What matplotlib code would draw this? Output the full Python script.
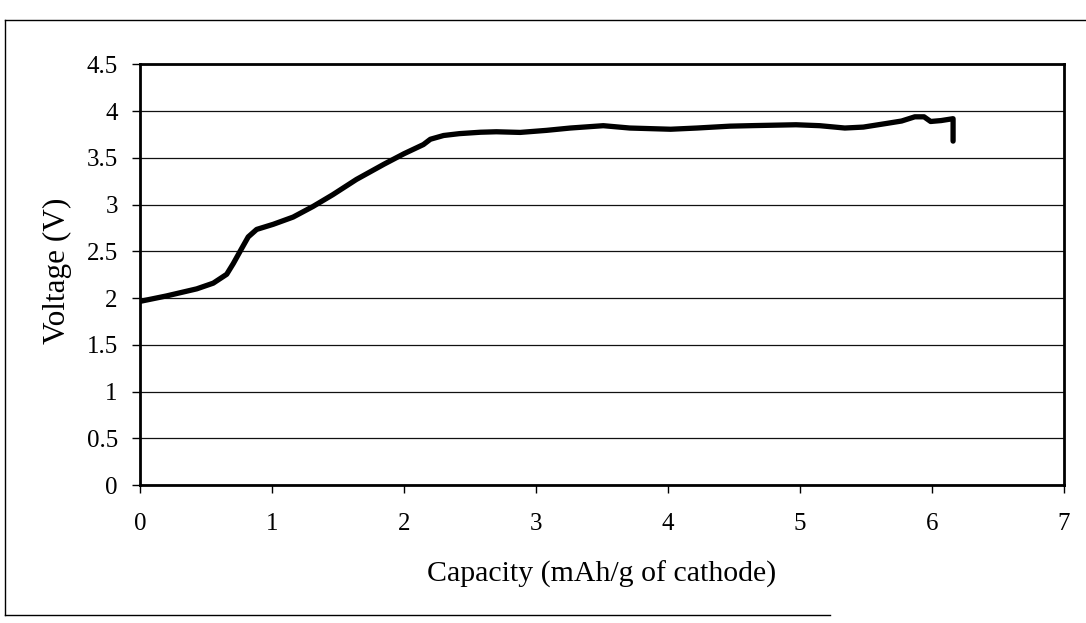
import matplotlib
matplotlib.use("Agg")
import matplotlib.pyplot as plt
from matplotlib.lines import Line2D

# Charge curve: capacity (mAh/g of cathode) vs cell voltage (V)
capacity = [0.00, 0.20, 0.43, 0.555, 0.657, 0.707, 0.77, 0.82, 0.884, 1.01,
            1.16, 1.31, 1.46, 1.64, 1.85, 2.00, 2.147, 2.20, 2.30, 2.42,
            2.58, 2.70, 2.88, 3.08, 3.26, 3.51, 3.71, 4.02, 4.22, 4.47,
            4.65, 4.97, 5.15, 5.34, 5.48, 5.66, 5.77, 5.87, 5.94, 5.99,
            6.07, 6.16, 6.16]
voltage = [1.965, 2.023, 2.099, 2.16, 2.255, 2.37, 2.53, 2.655, 2.735, 2.79,
           2.867, 2.98, 3.106, 3.27, 3.434, 3.545, 3.643, 3.70, 3.74, 3.76,
           3.775, 3.78, 3.773, 3.795, 3.82, 3.845, 3.82, 3.807, 3.82, 3.84,
           3.846, 3.855, 3.845, 3.82, 3.83, 3.87, 3.895, 3.94, 3.94, 3.89,
           3.90, 3.92, 3.68]

x_ticks = [0, 1, 2, 3, 4, 5, 6, 7]
y_ticks = [0, 0.5, 1, 1.5, 2, 2.5, 3, 3.5, 4, 4.5]
y_tick_labels = ["0", "0.5", "1", "1.5", "2", "2.5", "3", "3.5", "4", "4.5"]

plt.rcParams['font.family'] = ['Liberation Serif', 'DejaVu Serif']

fig = plt.figure(figsize=(10.86, 6.23), dpi=100)
ax = fig.add_axes([0.1289, 0.2215, 0.8508, 0.675])

ax.plot(capacity, voltage, color='black', linewidth=3.8,
        solid_joinstyle='round', solid_capstyle='round')

ax.set_xlim(0, 7)
ax.set_ylim(0, 4.5)
ax.set_xticks(x_ticks)
ax.set_yticks(y_ticks)
ax.set_yticklabels(y_tick_labels)

ax.yaxis.grid(True, color='#111111', linewidth=0.9)
ax.set_axisbelow(True)

for side in ['left', 'bottom', 'top', 'right']:
    ax.spines[side].set_linewidth(2.0)
    ax.spines[side].set_color('black')

ax.tick_params(axis='y', direction='out', length=6, width=1.0,
               pad=10, labelsize=18)
ax.tick_params(axis='x', direction='out', length=6, width=1.0,
               pad=14, labelsize=18)

ax.set_xlabel("Capacity (mAh/g of cathode)", fontsize=21.5, labelpad=19)
ax.set_ylabel("Voltage (V)", fontsize=22.5, va='center')
ax.yaxis.set_label_coords(-0.089, 0.51)

# Outer chart border
fig.add_artist(Line2D([5 / 1086, 5 / 1086], [1 - 20 / 623, 1 - 615 / 623],
                      transform=fig.transFigure, color='black', linewidth=1.0))
fig.add_artist(Line2D([5 / 1086, 1.0], [1 - 20 / 623, 1 - 20 / 623],
                      transform=fig.transFigure, color='black', linewidth=1.0))
fig.add_artist(Line2D([5 / 1086, 830 / 1086], [1 - 615 / 623, 1 - 615 / 623],
                      transform=fig.transFigure, color='black', linewidth=1.0))

fig.savefig("out.png", dpi=100, facecolor='white')
